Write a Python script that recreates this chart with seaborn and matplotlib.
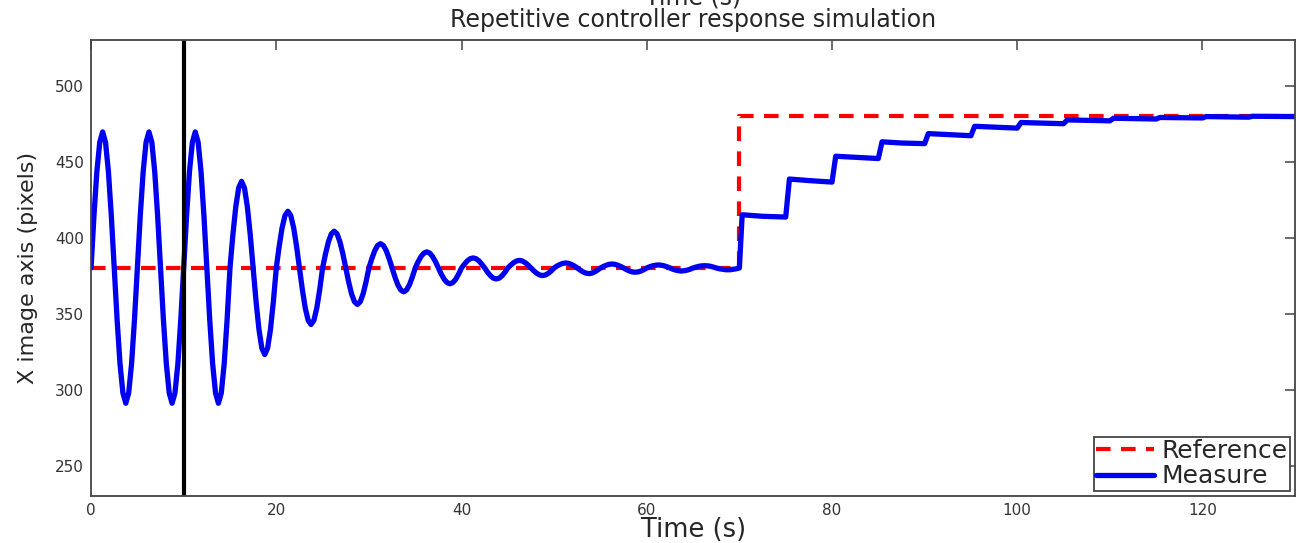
import numpy as np
import pandas as pd
import matplotlib
matplotlib.use("Agg")
import matplotlib.pyplot as plt
import seaborn as sns

# ---- data ---- #

# measured X position during the oscillation phase, sampled every 0.3125 s from t=0 to t=70
osc_step = 0.3125
osc_values = [
    380, 414.3, 443.3, 462.7, 469.5, 462.7, 443.3, 414.3,
    380, 345.9, 317.1, 297.8, 291.0, 297.8, 317.1, 345.9,
    380, 414.3, 443.3, 462.7, 469.5, 462.7, 443.3, 414.3,
    380, 345.9, 317.1, 297.8, 291.0, 297.8, 317.1, 345.9,
    380, 414.3, 443.3, 462.7, 469.5, 462.7, 443.3, 414.3,
    380, 345.9, 317.1, 297.8, 291.0, 297.8, 317.1, 345.9,
    380, 401.8, 420.3, 432.7, 437.0, 432.7, 420.3, 401.8,
    380, 358.2, 339.7, 327.3, 323.0, 327.3, 339.7, 358.2,
    380, 394.3, 406.4, 414.5, 417.3, 414.5, 406.4, 394.3,
    380, 365.8, 353.7, 345.6, 342.8, 345.6, 353.7, 365.8,
    380, 389.3, 397.1, 402.4, 404.2, 402.4, 397.1, 389.3,
    380, 370.8, 363.0, 357.8, 356.0, 357.8, 363.0, 370.8,
    380, 386.1, 391.3, 394.8, 396.0, 394.8, 391.3, 386.1,
    380, 374.0, 368.9, 365.5, 364.3, 365.5, 368.9, 374.0,
    380, 384.1, 387.5, 389.8, 390.6, 389.8, 387.5, 384.1,
    380, 376.0, 372.6, 370.4, 369.6, 370.4, 372.6, 376.0,
    380, 382.5, 384.7, 386.1, 386.6, 386.1, 384.7, 382.5,
    380, 377.2, 374.9, 373.3, 372.8, 373.3, 374.9, 377.2,
    380, 381.9, 383.5, 384.6, 385.0, 384.6, 383.5, 381.9,
    380, 378.1, 376.5, 375.4, 375.0, 375.4, 376.5, 378.1,
    380, 381.3, 382.3, 383.0, 383.3, 383.0, 382.3, 381.3,
    380, 378.6, 377.4, 376.6, 376.3, 376.6, 377.4, 378.6,
    380, 381.0, 381.8, 382.4, 382.6, 382.4, 381.8, 381.0,
    380, 378.9, 378.0, 377.4, 377.2, 377.4, 378.0, 378.9,
    380, 380.8, 381.4, 381.8, 382.0, 381.8, 381.4, 380.8,
    380, 379.2, 378.6, 378.2, 378.0, 378.2, 378.6, 379.2,
    380, 380.6, 381.1, 381.4, 381.5, 381.4, 381.1, 380.6,
    380, 379.5, 379.2, 378.9, 378.8, 378.9, 379.2, 379.5,
    380,
]

# staircase after the reference step at t=70
step_time = [70.3, 72.5, 75.0, 75.4, 77.5, 80.0, 80.4, 82.5, 85.0, 85.4, 87.5, 90.0,
             90.4, 95.0, 95.4, 100.0, 100.4, 105.0, 105.4, 110.0, 110.4, 115.0,
             115.4, 120.0, 120.4, 125.0, 125.4, 130.0]
step_values = [415.0, 414.0, 413.5, 438.5, 437.5, 436.5, 453.5, 452.8, 452.0, 463.0, 462.2, 461.8,
               468.4, 467.0, 473.2, 472.0, 475.7, 474.9, 477.4, 476.8, 478.5, 478.0,
               479.0, 478.7, 479.6, 479.2, 479.8, 479.6]

ref_time = [0, 70, 70, 130]
ref_values = [380, 380, 480, 480]

switch_time = 10

# ---- build frames ---- #
osc_time = np.arange(len(osc_values)) * osc_step
measure_df = pd.DataFrame({
    "time": np.concatenate([osc_time, step_time]),
    "x": np.concatenate([osc_values, step_values]),
})
ref_df = pd.DataFrame({"time": ref_time, "x": ref_values})

# ---- plot ---- #
sns.set_style("white")
plt.rcParams["font.family"] = ["DejaVu Sans"]

fig = plt.figure(figsize=(12.99, 5.43), dpi=100)
ax = fig.add_axes([0.0701, 0.0866, 0.9269, 0.8398])

sns.lineplot(data=ref_df, x="time", y="x", ax=ax, color="#ff0000", lw=3,
             linestyle=(0, (3.5, 2.5)), label="Reference", sort=False, estimator=None)
sns.lineplot(data=measure_df, x="time", y="x", ax=ax, color="#0000f0", lw=3.8,
             label="Measure", sort=False, estimator=None)
ax.axvline(switch_time, color="black", lw=3)

ax.set_xlim(0, 130)
ax.set_ylim(230, 530)
ax.set_xticks(range(0, 121, 20))
ax.set_yticks(range(250, 501, 50))

for s in ax.spines.values():
    s.set_visible(True)
    s.set_color("#444444")
    s.set_linewidth(1.3)
ax.tick_params(direction="in", length=7, width=1.1, color="#444444",
               top=True, right=True, labelsize=11, labelcolor="#333333", pad=5)

ax.set_xlabel("Time (s)", fontsize=18.5, labelpad=-1)
ax.set_ylabel("X image axis (pixels)", fontsize=16, labelpad=12)
ax.set_title("Time (s)\nRepetitive controller response simulation", fontsize=17,
             linespacing=0.95, pad=9)

leg = ax.legend(loc="lower right", fontsize=18, handlelength=2.3, handletextpad=0.3,
                borderpad=0.1, labelspacing=0.05, fancybox=False, framealpha=1,
                borderaxespad=0.2)
leg.get_frame().set_edgecolor("#444444")
leg.get_frame().set_linewidth(1.3)

plt.savefig("out.png", dpi=100)
plt.close()
